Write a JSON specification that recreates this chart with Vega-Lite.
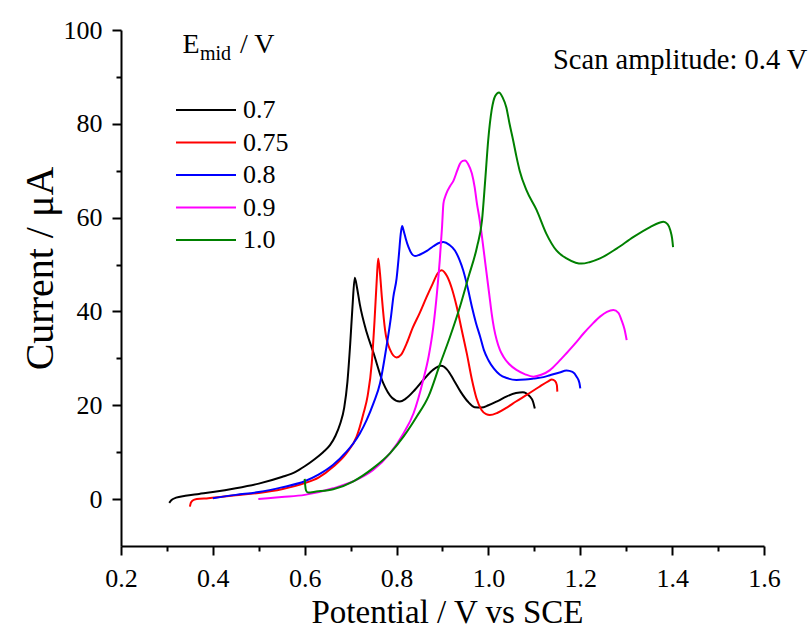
{
  "$schema": "https://vega.github.io/schema/vega-lite/v6.json",
  "width": 643,
  "height": 516,
  "autosize": {"type": "none"},
  "padding": {"left": 121, "top": 30, "right": 48, "bottom": 82},
  "background": "white",
  "config": {
    "font": "Liberation Serif",
    "view": {"stroke": null},
    "style": {"guide-label": {"font": "Liberation Serif", "fontSize": 26, "fill": "black"}, "guide-title": {"font": "Liberation Serif", "fill": "black", "fontWeight": "normal"}},
    "axis": {"grid": false, "domainColor": "black", "domainWidth": 2, "tickColor": "black", "tickWidth": 2, "labelColor": "black", "titleColor": "black", "labelFontSize": 26, "titleFontWeight": "normal", "labelFont": "Liberation Serif", "titleFont": "Liberation Serif"},
    "legend": {"labelFont": "Liberation Serif", "labelFontSize": 26, "labelColor": "black"},
    "text": {"font": "Liberation Serif"}
  },
  "datasets": {
    "curves": [
      {"s":"0.7","v":0.305,"i":-0.8},{"s":"0.7","v":0.31,"i":-0.2},{"s":"0.7","v":0.32,"i":0.3},{"s":"0.7","v":0.34,"i":0.7},{"s":"0.7","v":0.37,"i":1.1},{"s":"0.7","v":0.40,"i":1.5},{"s":"0.7","v":0.45,"i":2.3},{"s":"0.7","v":0.50,"i":3.3},{"s":"0.7","v":0.55,"i":4.7},{"s":"0.7","v":0.58,"i":5.8},{"s":"0.7","v":0.60,"i":7.0},{"s":"0.7","v":0.62,"i":8.4},{"s":"0.7","v":0.64,"i":10.0},{"s":"0.7","v":0.655,"i":11.5},{"s":"0.7","v":0.667,"i":13.5},{"s":"0.7","v":0.677,"i":16},{"s":"0.7","v":0.686,"i":19.5},{"s":"0.7","v":0.693,"i":25},{"s":"0.7","v":0.699,"i":33},{"s":"0.7","v":0.704,"i":41},{"s":"0.7","v":0.709,"i":47.2},{"s":"0.7","v":0.714,"i":45},{"s":"0.7","v":0.72,"i":41.5},{"s":"0.7","v":0.735,"i":35.5},{"s":"0.7","v":0.749,"i":31.4},{"s":"0.7","v":0.771,"i":24.7},{"s":"0.7","v":0.79,"i":21.6},{"s":"0.7","v":0.807,"i":20.8},{"s":"0.7","v":0.82,"i":21.4},{"s":"0.7","v":0.84,"i":23.3},{"s":"0.7","v":0.86,"i":25.6},{"s":"0.7","v":0.88,"i":27.6},{"s":"0.7","v":0.897,"i":28.4},{"s":"0.7","v":0.91,"i":27.6},{"s":"0.7","v":0.925,"i":25.3},{"s":"0.7","v":0.94,"i":22.8},{"s":"0.7","v":0.955,"i":20.8},{"s":"0.7","v":0.97,"i":19.6},{"s":"0.7","v":0.985,"i":19.5},{"s":"0.7","v":1.00,"i":20.0},{"s":"0.7","v":1.02,"i":20.9},{"s":"0.7","v":1.04,"i":21.9},{"s":"0.7","v":1.06,"i":22.6},{"s":"0.7","v":1.075,"i":22.8},{"s":"0.7","v":1.09,"i":21.9},{"s":"0.7","v":1.097,"i":20.8},{"s":"0.7","v":1.101,"i":19.3},
      {"s":"0.75","v":0.350,"i":-1.6},{"s":"0.75","v":0.352,"i":-0.8},{"s":"0.75","v":0.356,"i":-0.3},{"s":"0.75","v":0.365,"i":0.0},{"s":"0.75","v":0.39,"i":0.2},{"s":"0.75","v":0.42,"i":0.5},{"s":"0.75","v":0.45,"i":0.8},{"s":"0.75","v":0.50,"i":1.3},{"s":"0.75","v":0.55,"i":2.1},{"s":"0.75","v":0.60,"i":3.4},{"s":"0.75","v":0.63,"i":4.6},{"s":"0.75","v":0.662,"i":6.9},{"s":"0.75","v":0.691,"i":9.8},{"s":"0.75","v":0.713,"i":13.3},{"s":"0.75","v":0.728,"i":18.3},{"s":"0.75","v":0.737,"i":22},{"s":"0.75","v":0.746,"i":29},{"s":"0.75","v":0.752,"i":38},{"s":"0.75","v":0.757,"i":47},{"s":"0.75","v":0.760,"i":51.3},{"s":"0.75","v":0.764,"i":48},{"s":"0.75","v":0.768,"i":43},{"s":"0.75","v":0.775,"i":36},{"s":"0.75","v":0.786,"i":31.8},{"s":"0.75","v":0.800,"i":30.2},{"s":"0.75","v":0.81,"i":30.8},{"s":"0.75","v":0.822,"i":33.2},{"s":"0.75","v":0.835,"i":36.5},{"s":"0.75","v":0.85,"i":39.6},{"s":"0.75","v":0.865,"i":43},{"s":"0.75","v":0.879,"i":46},{"s":"0.75","v":0.89,"i":48.2},{"s":"0.75","v":0.898,"i":48.8},{"s":"0.75","v":0.91,"i":47.5},{"s":"0.75","v":0.92,"i":45},{"s":"0.75","v":0.931,"i":41},{"s":"0.75","v":0.942,"i":36},{"s":"0.75","v":0.953,"i":31},{"s":"0.75","v":0.964,"i":25.5},{"s":"0.75","v":0.974,"i":21.5},{"s":"0.75","v":0.985,"i":19},{"s":"0.75","v":0.995,"i":18.1},{"s":"0.75","v":1.003,"i":17.9},{"s":"0.75","v":1.02,"i":18.4},{"s":"0.75","v":1.04,"i":19.5},{"s":"0.75","v":1.06,"i":20.8},{"s":"0.75","v":1.083,"i":22.2},{"s":"0.75","v":1.11,"i":23.9},{"s":"0.75","v":1.13,"i":25.1},{"s":"0.75","v":1.138,"i":25.5},{"s":"0.75","v":1.145,"i":25.2},{"s":"0.75","v":1.149,"i":24.3},{"s":"0.75","v":1.15,"i":22.9},
      {"s":"0.8","v":0.400,"i":0.2},{"s":"0.8","v":0.45,"i":0.9},{"s":"0.8","v":0.50,"i":1.5},{"s":"0.8","v":0.55,"i":2.5},{"s":"0.8","v":0.60,"i":3.8},{"s":"0.8","v":0.63,"i":5.2},{"s":"0.8","v":0.662,"i":7.3},{"s":"0.8","v":0.69,"i":10.0},{"s":"0.8","v":0.706,"i":11.9},{"s":"0.8","v":0.72,"i":14},{"s":"0.8","v":0.735,"i":16.9},{"s":"0.8","v":0.75,"i":20.5},{"s":"0.8","v":0.764,"i":24.7},{"s":"0.8","v":0.778,"i":32.5},{"s":"0.8","v":0.788,"i":39},{"s":"0.8","v":0.793,"i":43.1},{"s":"0.8","v":0.800,"i":47},{"s":"0.8","v":0.805,"i":52},{"s":"0.8","v":0.809,"i":56.5},{"s":"0.8","v":0.812,"i":58.2},{"s":"0.8","v":0.816,"i":57},{"s":"0.8","v":0.82,"i":55.5},{"s":"0.8","v":0.826,"i":53.7},{"s":"0.8","v":0.833,"i":52.3},{"s":"0.8","v":0.840,"i":51.8},{"s":"0.8","v":0.85,"i":52.1},{"s":"0.8","v":0.866,"i":52.9},{"s":"0.8","v":0.88,"i":53.9},{"s":"0.8","v":0.895,"i":54.7},{"s":"0.8","v":0.902,"i":54.8},{"s":"0.8","v":0.915,"i":54.2},{"s":"0.8","v":0.927,"i":53},{"s":"0.8","v":0.937,"i":51},{"s":"0.8","v":0.945,"i":48.8},{"s":"0.8","v":0.955,"i":45},{"s":"0.8","v":0.964,"i":41},{"s":"0.8","v":0.973,"i":37.5},{"s":"0.8","v":0.982,"i":34.6},{"s":"0.8","v":0.99,"i":31.8},{"s":"0.8","v":1.0,"i":29.6},{"s":"0.8","v":1.012,"i":27.8},{"s":"0.8","v":1.025,"i":26.5},{"s":"0.8","v":1.04,"i":25.8},{"s":"0.8","v":1.061,"i":25.4},{"s":"0.8","v":1.08,"i":25.5},{"s":"0.8","v":1.098,"i":25.7},{"s":"0.8","v":1.12,"i":26.0},{"s":"0.8","v":1.134,"i":26.4},{"s":"0.8","v":1.155,"i":27.0},{"s":"0.8","v":1.170,"i":27.4},{"s":"0.8","v":1.183,"i":27.1},{"s":"0.8","v":1.192,"i":26.1},{"s":"0.8","v":1.198,"i":24.8},{"s":"0.8","v":1.200,"i":23.6},
      {"s":"0.9","v":0.499,"i":0.0},{"s":"0.9","v":0.52,"i":0.2},{"s":"0.9","v":0.55,"i":0.45},{"s":"0.9","v":0.60,"i":0.9},{"s":"0.9","v":0.662,"i":2.3},{"s":"0.9","v":0.706,"i":3.8},{"s":"0.9","v":0.749,"i":6.2},{"s":"0.9","v":0.786,"i":9.8},{"s":"0.9","v":0.815,"i":14},{"s":"0.9","v":0.837,"i":18.3},{"s":"0.9","v":0.858,"i":25.4},{"s":"0.9","v":0.870,"i":30.5},{"s":"0.9","v":0.880,"i":36.7},{"s":"0.9","v":0.888,"i":44},{"s":"0.9","v":0.894,"i":50.9},{"s":"0.9","v":0.899,"i":58},{"s":"0.9","v":0.902,"i":63},{"s":"0.9","v":0.906,"i":64.5},{"s":"0.9","v":0.909,"i":65.3},{"s":"0.9","v":0.917,"i":66.8},{"s":"0.9","v":0.924,"i":67.9},{"s":"0.9","v":0.932,"i":70},{"s":"0.9","v":0.938,"i":71.5},{"s":"0.9","v":0.944,"i":72.1},{"s":"0.9","v":0.949,"i":72.2},{"s":"0.9","v":0.956,"i":71.4},{"s":"0.9","v":0.964,"i":69.4},{"s":"0.9","v":0.970,"i":66.5},{"s":"0.9","v":0.975,"i":63},{"s":"0.9","v":0.981,"i":59.5},{"s":"0.9","v":0.986,"i":55.9},{"s":"0.9","v":0.991,"i":52},{"s":"0.9","v":0.996,"i":48.1},{"s":"0.9","v":1.002,"i":43.5},{"s":"0.9","v":1.007,"i":39.6},{"s":"0.9","v":1.012,"i":36.5},{"s":"0.9","v":1.018,"i":33.9},{"s":"0.9","v":1.025,"i":31.8},{"s":"0.9","v":1.033,"i":30.3},{"s":"0.9","v":1.045,"i":28.8},{"s":"0.9","v":1.062,"i":27.5},{"s":"0.9","v":1.08,"i":26.6},{"s":"0.9","v":1.098,"i":26.1},{"s":"0.9","v":1.115,"i":26.5},{"s":"0.9","v":1.134,"i":27.5},{"s":"0.9","v":1.152,"i":29.2},{"s":"0.9","v":1.170,"i":31.1},{"s":"0.9","v":1.19,"i":33.3},{"s":"0.9","v":1.207,"i":35.3},{"s":"0.9","v":1.225,"i":37.2},{"s":"0.9","v":1.243,"i":38.9},{"s":"0.9","v":1.258,"i":39.9},{"s":"0.9","v":1.272,"i":40.3},{"s":"0.9","v":1.283,"i":39.7},{"s":"0.9","v":1.290,"i":38.1},{"s":"0.9","v":1.296,"i":36.3},{"s":"0.9","v":1.301,"i":33.9},
      {"s":"1.0","v":0.600,"i":4.3},{"s":"1.0","v":0.601,"i":3.0},{"s":"1.0","v":0.603,"i":1.8},{"s":"1.0","v":0.607,"i":1.4},{"s":"1.0","v":0.625,"i":1.6},{"s":"1.0","v":0.662,"i":2.1},{"s":"1.0","v":0.706,"i":3.8},{"s":"1.0","v":0.749,"i":6.6},{"s":"1.0","v":0.786,"i":9.8},{"s":"1.0","v":0.815,"i":13.3},{"s":"1.0","v":0.844,"i":17.6},{"s":"1.0","v":0.87,"i":22},{"s":"1.0","v":0.894,"i":28.6},{"s":"1.0","v":0.916,"i":34.5},{"s":"1.0","v":0.938,"i":41},{"s":"1.0","v":0.957,"i":47.5},{"s":"1.0","v":0.975,"i":53.7},{"s":"1.0","v":0.986,"i":59.4},{"s":"1.0","v":0.993,"i":68},{"s":"1.0","v":0.9995,"i":76.5},{"s":"1.0","v":1.007,"i":82.9},{"s":"1.0","v":1.015,"i":86},{"s":"1.0","v":1.023,"i":86.7},{"s":"1.0","v":1.031,"i":85.6},{"s":"1.0","v":1.039,"i":83.5},{"s":"1.0","v":1.046,"i":80},{"s":"1.0","v":1.054,"i":76.4},{"s":"1.0","v":1.061,"i":73},{"s":"1.0","v":1.068,"i":70},{"s":"1.0","v":1.083,"i":65.8},{"s":"1.0","v":1.105,"i":61.6},{"s":"1.0","v":1.126,"i":56.6},{"s":"1.0","v":1.148,"i":53},{"s":"1.0","v":1.17,"i":51.3},{"s":"1.0","v":1.19,"i":50.4},{"s":"1.0","v":1.203,"i":50.2},{"s":"1.0","v":1.22,"i":50.5},{"s":"1.0","v":1.243,"i":51.3},{"s":"1.0","v":1.279,"i":53.4},{"s":"1.0","v":1.316,"i":55.9},{"s":"1.0","v":1.352,"i":58},{"s":"1.0","v":1.372,"i":58.9},{"s":"1.0","v":1.381,"i":59.1},{"s":"1.0","v":1.39,"i":58.6},{"s":"1.0","v":1.396,"i":57.3},{"s":"1.0","v":1.4,"i":55.5},{"s":"1.0","v":1.402,"i":53.7}
    ]
  },
  "layer": [
    {
      "data": {"name": "curves"},
      "mark": {"type": "line", "strokeWidth": 2, "interpolate": "monotone"},
      "encoding": {
        "x": {"field": "v", "type": "quantitative", "scale": {"domain": [0.2, 1.6], "nice": false, "zero": false},
          "axis": {"values": [0.2,0.3,0.4,0.5,0.6,0.7,0.8,0.9,1.0,1.1,1.2,1.3,1.4,1.5,1.6],
            "labelExpr": "round(datum.value*10) % 2 === 0 ? format(datum.value, '.1f') : ''",
            "tickSize": {"condition": {"test": "round(datum.value*10) % 2 === 0", "value": 9}, "value": 5},
            "labelFont": "Liberation Serif", "labelFontSize": 26,
            "labelPadding": 10, "labelFlush": false, "labelOverlap": false,
            "encode": {"labels": {"update": {"font": {"value": "Liberation Serif"}, "fontSize": {"value": 26}}}},
            "title": "Potential / V vs SCE", "titleFont": "Liberation Serif", "titleFontSize": 33, "titleBaseline": "alphabetic", "titleX": 326, "titleY": 76, "titleAnchor": "middle"}},
        "y": {"field": "i", "type": "quantitative", "scale": {"domain": [-10, 100], "nice": false, "zero": false},
          "axis": {"values": [0,10,20,30,40,50,60,70,80,90,100],
            "labelExpr": "datum.value % 20 === 0 ? datum.label : ''",
            "tickSize": {"condition": {"test": "datum.value % 20 === 0", "value": 9}, "value": 5},
            "labelFont": "Liberation Serif", "labelFontSize": 26,
            "labelPadding": 10, "labelFlush": false, "labelOverlap": false,
            "encode": {"labels": {"update": {"font": {"value": "Liberation Serif"}, "fontSize": {"value": 26}}}},
            "title": "Current / μA", "titleFont": "Liberation Serif", "titleFontSize": 40, "titleBaseline": "alphabetic", "titleX": -69, "titleY": 238, "titleAnchor": "middle"}},
        "color": {"field": "s", "type": "nominal",
          "scale": {"domain": ["0.7","0.75","0.8","0.9","1.0"], "range": ["#000000","#ff0000","#0000ff","#ff00ff","#008000"]},
          "legend": {"title": null, "orient": "none", "legendX": 72, "legendY": 67, "padding": 0,
            "symbolType": "M-6,0H6", "symbolSize": 100, "symbolStrokeWidth": 2, "symbolOffset": 0,
            "labelFontSize": 26, "labelFont": "Liberation Serif", "labelColor": "black", "labelOffset": 24, "rowPadding": 6.5}},
        "detail": {"field": "s"}
      }
    },
    {"data": {"values": [{}]},
     "mark": {"type": "text", "text": "E", "font": "Liberation Serif", "fontSize": 28, "align": "left", "baseline": "alphabetic", "color": "black"},
     "encoding": {"x": {"datum": 0.334}, "y": {"datum": 95.2}}},
    {"data": {"values": [{}]},
     "mark": {"type": "text", "text": "mid", "font": "Liberation Serif", "fontSize": 20, "align": "left", "baseline": "alphabetic", "color": "black"},
     "encoding": {"x": {"datum": 0.372}, "y": {"datum": 93.7}}},
    {"data": {"values": [{}]},
     "mark": {"type": "text", "text": "/ V", "font": "Liberation Serif", "fontSize": 28, "align": "left", "baseline": "alphabetic", "color": "black"},
     "encoding": {"x": {"datum": 0.459}, "y": {"datum": 95.2}}},
    {"data": {"values": [{}]},
     "mark": {"type": "text", "text": "Scan amplitude: 0.4 V", "font": "Liberation Serif", "fontSize": 28.5, "align": "left", "baseline": "alphabetic", "color": "black"},
     "encoding": {"x": {"datum": 1.1406}, "y": {"datum": 91.7}}}
  ]
}
